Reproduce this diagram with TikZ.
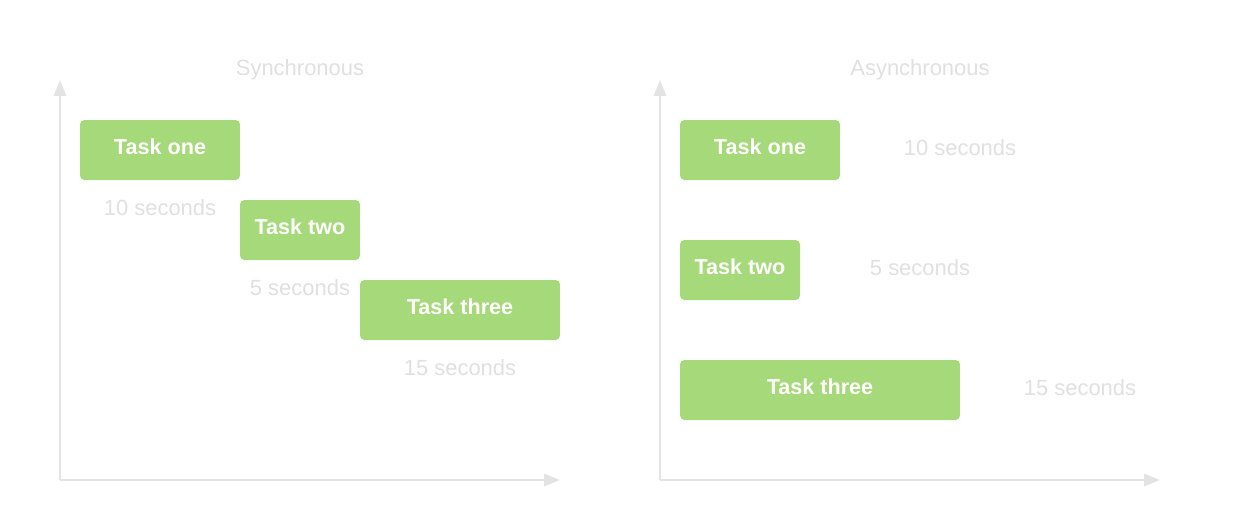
\documentclass[tikz,border=0pt]{standalone}
\usepackage{fontspec}
\setmainfont{Liberation Sans}
\usepackage{tikz}
\usetikzlibrary{arrows.meta}
\definecolor{taskgreen}{HTML}{A6D979}
\definecolor{axisgray}{HTML}{E3E3E3}
\definecolor{labelgray}{HTML}{E0E0E0}
\tikzset{
  task/.style={fill=taskgreen,rounded corners=2.5pt,text=white,font=\fontsize{12.3}{14}\selectfont\bfseries,minimum height=1.2cm,inner sep=0pt,text depth=0.12cm},
  dur/.style={text=labelgray,font=\fontsize{12.5}{14}\selectfont},
  axis/.style={draw=axisgray,line width=1.1pt,-{Triangle[length=9pt,width=7pt]}}
}
\begin{document}
\begin{tikzpicture}[x=0.02cm,y=-0.02cm]
\useasboundingbox (0,0) rectangle (1240,525);
% synchronous
\node[dur] (synct) at (300,70) {Synchronous};
\coordinate (so) at (60,480);
\draw[axis] (so) -- (60,80);
\draw[axis] (so) -- (560,480);
\node[task,minimum width=3.2cm] (s1) at (160,150) {Task one};
\node[dur] (s1d) at (160,208) {10 seconds};
\node[task,minimum width=2.4cm] (s2) at (300,230) {Task two};
\node[dur] (s2d) at (300,288) {5 seconds};
\node[task,minimum width=4cm] (s3) at (460,310) {Task three};
\node[dur] (s3d) at (460,368) {15 seconds};
% asynchronous
\node[dur] (asynct) at (920,70) {Asynchronous};
\coordinate (ao) at (660,480);
\draw[axis] (ao) -- (660,80);
\draw[axis] (ao) -- (1160,480);
\node[task,minimum width=3.2cm] (a1) at (760,150) {Task one};
\node[dur] (a1d) at (960,148) {10 seconds};
\node[task,minimum width=2.4cm] (a2) at (740,270) {Task two};
\node[dur] (a2d) at (920,268) {5 seconds};
\node[task,minimum width=5.6cm] (a3) at (820,390) {Task three};
\node[dur] (a3d) at (1080,388) {15 seconds};
\end{tikzpicture}
\end{document}
